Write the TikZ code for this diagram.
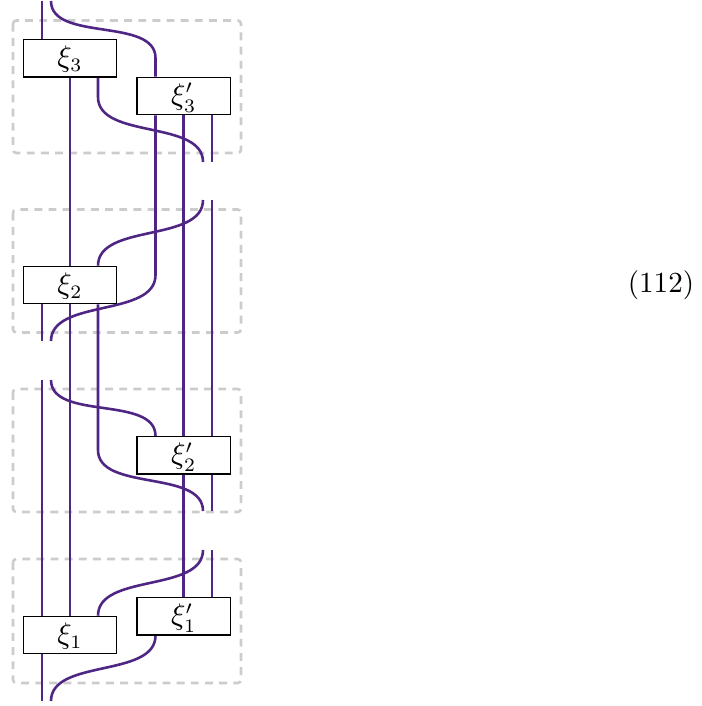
\documentclass[tikz,border=0pt]{standalone}
\usepackage{amsmath}
\usepackage{tikz}
\usetikzlibrary{backgrounds}

\definecolor{wirecolor}{HTML}{4F2683}
\definecolor{framecolor}{HTML}{CCCCCC}
\tikzset{
    wire/.style={draw=wirecolor, line width=0.95pt},
    frame/.style={draw=framecolor, line width=0.95pt, dash pattern=on 2.9pt off 2.3pt, rounded corners=1.2pt},
    gatebox/.style={draw=black, line width=0.4pt, fill=white, minimum width=34.4pt, minimum height=13.8pt, inner sep=0pt, text height=9pt, text depth=2.6pt},
    sbend/.style={out=-90, in=90, looseness=0.88},
}

\begin{document}
\begin{tikzpicture}[x=0.3676pt, y=-0.3676pt, font=\fontsize{10.7}{13}\selectfont]
        \useasboundingbox (0, 0) rectangle (702, 706);

        % Free ends and bends
        \coordinate (inL) at (42, 1);
        \coordinate (inR) at (51, 1);
        \coordinate (bendA) at (155.5, 58);
        \coordinate (bendB) at (98, 97);
        \coordinate (gapA) at (203, 162);
        \coordinate (gapB) at (212, 162);
        \coordinate (gapC) at (203, 200);
        \coordinate (gapD) at (212, 200);
        \coordinate (bendC) at (155.5, 275);
        \coordinate (gapE) at (42, 341);
        \coordinate (gapF) at (51, 341);
        \coordinate (gapG) at (42, 380);
        \coordinate (gapH) at (51, 380);
        \coordinate (bendD) at (98, 450);
        \coordinate (gapI) at (203, 511);
        \coordinate (gapJ) at (212, 511);
        \coordinate (gapK) at (203, 550);
        \coordinate (gapL) at (212, 550);
        \coordinate (outL) at (42, 701);
        \coordinate (outR) at (51, 701);

        % Boxes
        \node[gatebox] (xiThree) at (70, 58.25) {$\xi_3$};
        \node[gatebox] (xiThreeP) at (183.75, 96) {$\xi'_3$};
        \node[gatebox] (xiTwo) at (70, 285) {$\xi_2$};
        \node[gatebox] (xiTwoP) at (183.75, 455.25) {$\xi'_2$};
        \node[gatebox] (xiOne) at (70, 635) {$\xi_1$};
        \node[gatebox] (xiOneP) at (183.75, 616.25) {$\xi'_1$};

        % Equation number
        \node[anchor=center] (eqnum) at (661, 285) {(112)};

        \begin{scope}[on background layer]
        % Dashed frames
        \draw[frame] (13, 20.5) rectangle (241, 153);
        \draw[frame] (13, 209.5) rectangle (241, 332.5);
        \draw[frame] (13, 389) rectangle (241, 512);
        \draw[frame] (13, 559) rectangle (241, 683);

        % Top section
        \draw[wire] (inL) -- (inL |- xiThree.north);
        \draw[wire] (inR) to[sbend] (bendA) -- (bendA |- xiThreeP.north);
        \draw[wire] (xiThree.south -| bendB) -- (bendB) to[sbend] (gapA);
        \draw[wire] (xiThreeP.south -| gapB) -- (gapB);

        % Long verticals
        \draw[wire] (xiThree.south) -- (xiTwo.north);
        \draw[wire] (xiThreeP.south) -- (xiTwoP.north);
        \draw[wire] (xiThreeP.south -| bendC) -- (bendC) to[sbend] (gapF);
        \draw[wire] (gapD) -- (xiTwoP.north -| gapD);

        % Second section
        \draw[wire] (gapC) to[sbend] (xiTwo.north -| bendD);
        \draw[wire] (xiTwo.south -| gapE) -- (gapE);
        \draw[wire] (xiTwo.south) -- (xiOne.north);
        \draw[wire] (xiTwo.south -| bendD) -- (bendD) to[sbend] (gapI);

        % Third section
        \draw[wire] (gapG) -- (gapG |- xiOne.north);
        \draw[wire] (gapH) to[sbend] (xiTwoP.north -| bendA);
        \draw[wire] (xiTwoP.south -| gapJ) -- (gapJ);
        \draw[wire] (xiTwoP.south) -- (xiOneP.north);

        % Bottom section
        \draw[wire] (gapK) to[sbend] (xiOne.north -| bendD);
        \draw[wire] (gapL) -- (xiOneP.north -| gapL);
        \draw[wire] (xiOne.south -| outL) -- (outL);
        \draw[wire] (xiOneP.south -| bendA) to[sbend] (outR);
        \end{scope}
\end{tikzpicture}
\end{document}
